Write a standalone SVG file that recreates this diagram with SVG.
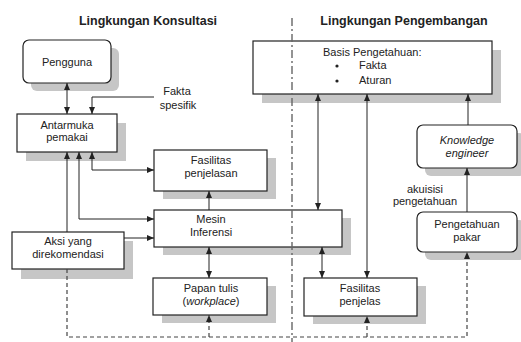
<svg xmlns="http://www.w3.org/2000/svg" width="521" height="342" viewBox="0 0 521 342">
<style>
text{font-family:"Liberation Sans",Arial,sans-serif;font-size:11px;fill:#222}
.t{text-anchor:middle}
.title{font-weight:bold;font-size:12.5px;text-anchor:middle}
.box{fill:#fff;stroke:#222;stroke-width:1.2}
.sh{fill:#c6c6c6;stroke:none}
.ln{fill:none;stroke:#222;stroke-width:1}
.dash{fill:none;stroke:#444;stroke-width:1.2;stroke-dasharray:4 3}
.div{fill:none;stroke:#666;stroke-width:1.4;stroke-dasharray:8 3 2 3}
.it{font-style:italic}
</style>
<defs>
<marker id="ah" viewBox="0 0 7 6" refX="7" refY="3" markerWidth="7" markerHeight="6" markerUnits="userSpaceOnUse" orient="auto-start-reverse">
<path d="M0,0 L7,3 L0,6 z" fill="#222"/>
</marker>
</defs>
<rect width="521" height="342" fill="#fff"/>
<text class="title" x="148" y="25">Lingkungan Konsultasi</text>
<text class="title" x="404" y="25">Lingkungan Pengembangan</text>

<g id="pengguna">
<rect class="sh" x="31" y="48" width="88" height="43" rx="6"/>
<rect class="box" x="23" y="40" width="88" height="43" rx="6"/>
<text class="t" x="67" y="66">Pengguna</text>
</g>
<g id="fakta-spesifik">
<text class="t" x="177" y="95">Fakta</text>
<text class="t" x="178" y="109">spesifik</text>
</g>
<g id="antarmuka">
<rect class="sh" x="26" y="123" width="100" height="38"/>
<rect class="box" x="17" y="114" width="100" height="38"/>
<text class="t" x="67" y="129">Antarmuka</text>
<text class="t" x="67" y="141">pemakai</text>
</g>
<g id="fasilitas-penjelasan">
<rect class="sh" x="163" y="158" width="113" height="41"/>
<rect class="box" x="154" y="150" width="113" height="41"/>
<text class="t" x="211" y="164">Fasilitas</text>
<text class="t" x="211" y="177">penjelasan</text>
</g>
<g id="mesin-inferensi">
<rect class="sh" x="163" y="218" width="188" height="37"/>
<rect class="box" x="154" y="210" width="188" height="37"/>
<text class="t" x="211" y="223">Mesin</text>
<text class="t" x="211" y="236">Inferensi</text>
</g>
<g id="aksi">
<rect class="sh" x="21" y="241" width="112" height="38"/>
<rect class="box" x="12" y="232" width="112" height="37"/>
<text class="t" x="68" y="245">Aksi yang</text>
<text class="t" x="68" y="258">direkomendasi</text>
</g>
<g id="papan-tulis">
<rect class="sh" x="162" y="286" width="114" height="37"/>
<rect class="box" x="153" y="278" width="114" height="37"/>
<text class="t" x="211" y="292">Papan tulis</text>
<text class="t" x="211" y="305">(<tspan class="it">workplace</tspan>)</text>
</g>
<g id="basis-pengetahuan">
<rect class="sh" x="262" y="50" width="239" height="53"/>
<rect class="box" x="253" y="41" width="239" height="53"/>
<text x="323" y="56">Basis Pengetahuan:</text>
<circle cx="337" cy="66" r="1.6" fill="#222"/>
<circle cx="337" cy="81" r="1.6" fill="#222"/>
<text x="359" y="69">Fakta</text>
<text x="359" y="84">Aturan</text>
</g>
<g id="fasilitas-penjelas">
<rect class="sh" x="313" y="286" width="113" height="38"/>
<rect class="box" x="304" y="278" width="113" height="38"/>
<text class="t" x="360" y="292">Fasilitas</text>
<text class="t" x="360" y="305">penjelas</text>
</g>
<g id="knowledge-engineer">
<rect class="sh" x="425" y="133" width="100" height="43" rx="6"/>
<rect class="box" x="417" y="125" width="100" height="43" rx="6"/>
<text class="t it" x="467" y="144">Knowledge</text>
<text class="t it" x="467" y="157">engineer</text>
</g>
<g id="akuisisi">
<text class="t" x="425" y="193">akuisisi</text>
<text class="t" x="425" y="205">pengetahuan</text>
</g>
<g id="pengetahuan-pakar">
<rect class="sh" x="425" y="220" width="100" height="40" rx="6"/>
<rect class="box" x="417" y="212" width="100" height="40" rx="6"/>
<text class="t" x="467" y="228">Pengetahuan</text>
<text class="t" x="467" y="241">pakar</text>
</g>

<g id="connectors">
<path class="ln" d="M67,83 V114" marker-start="url(#ah)" marker-end="url(#ah)"/>
<path class="ln" d="M154,97 H92 V114" marker-end="url(#ah)"/>
<path class="ln" d="M92,152 V170 H154" marker-start="url(#ah)" marker-end="url(#ah)"/>
<path class="ln" d="M79,152 V219 H154" marker-start="url(#ah)" marker-end="url(#ah)"/>
<path class="ln" d="M67,232 V152" marker-end="url(#ah)"/>
<path class="ln" d="M124,238 H154" marker-end="url(#ah)"/>
<path class="ln" d="M209,210 V191" marker-end="url(#ah)"/>
<path class="ln" d="M209,247 V278" marker-start="url(#ah)" marker-end="url(#ah)"/>
<path class="ln" d="M318,94 V210" marker-start="url(#ah)" marker-end="url(#ah)"/>
<path class="ln" d="M322,247 V278" marker-start="url(#ah)" marker-end="url(#ah)"/>
<path class="ln" d="M367,94 V278" marker-start="url(#ah)" marker-end="url(#ah)"/>
<path class="ln" d="M468,125 V94" marker-end="url(#ah)"/>
<path class="ln" d="M467,212 V168" marker-end="url(#ah)"/>
<path class="dash" d="M67,269 V337 H467 V252" marker-end="url(#ah)"/>
<path class="dash" d="M209,337 V315" marker-end="url(#ah)"/>
<path class="dash" d="M367,337 V316" marker-end="url(#ah)"/>
</g>
<path class="div" d="M292,18 V342"/>
</svg>
